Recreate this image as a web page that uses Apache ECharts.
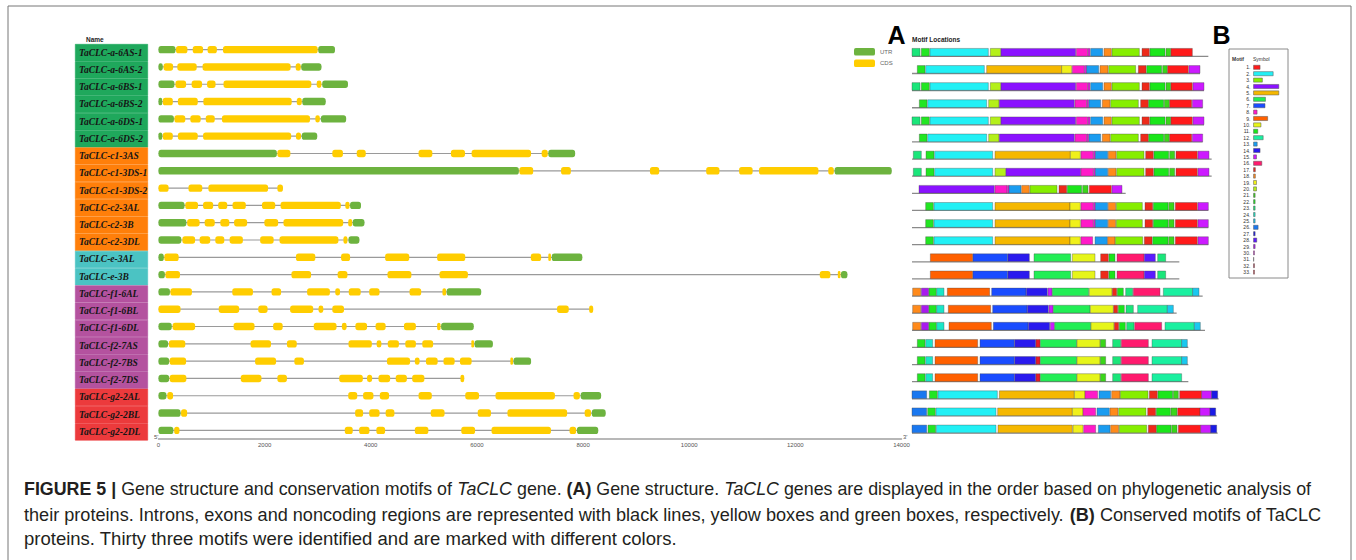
<!DOCTYPE html>
<html><head><meta charset="utf-8">
<script src="https://cdn.jsdelivr.net/npm/echarts@6/dist/echarts.min.js"></script>
<style>html,body{margin:0;padding:0;background:#fff}#c{width:1356px;height:560px}</style>
</head><body><div id="c"></div><script>
// ---------------- data ----------------
const geneNames = ['TaCLC-a-6AS-1','TaCLC-a-6AS-2','TaCLC-a-6BS-1','TaCLC-a-6BS-2','TaCLC-a-6DS-1','TaCLC-a-6DS-2',
 'TaCLC-c1-3AS','TaCLC-c1-3DS-1','TaCLC-c1-3DS-2','TaCLC-c2-3AL','TaCLC-c2-3B','TaCLC-c2-3DL',
 'TaCLC-e-3AL','TaCLC-e-3B','TaCLC-f1-6AL','TaCLC-f1-6BL','TaCLC-f1-6DL','TaCLC-f2-7AS','TaCLC-f2-7BS','TaCLC-f2-7DS',
 'TaCLC-g2-2AL','TaCLC-g2-2BL','TaCLC-g2-2DL'];
const geneClades = ['a','a','a','a','a','a','c','c','c','c','c','c','e','e','f','f','f','f','f','f','g','g','g'];
const cladeColors = {a:'#1fa85c', c:'#ff7f0a', e:'#4bc3c3', f:'#b4529f', g:'#ec3a3c'};

// exon coordinates in bp (start, end)
const utrSegments = [
 [[0,320],[3010,3325]],
 [[0,80],[2690,3070]],
 [[0,300],[3085,3570]],
 [[0,70],[2710,3150]],
 [[0,290],[3060,3535]],
 [[0,70],[2700,2990]],
 [[0,2230],[7345,7850]],
 [[0,6790],[12740,13815]],
 [],
 [[0,490],[3610,3815]],
 [[0,525],[3660,3880]],
 [[0,430],[3580,3785]],
 [[0,100],[7410,7985]],
 [[0,120],[12860,12980]],
 [[0,215],[5430,6080]],
 [],
 [[0,250],[5325,5940]],
 [[0,180],[5955,6300]],
 [[0,200],[6690,7020]],
 [[0,200]],
 [[0,150],[7955,8340]],
 [[0,415],[8165,8425]],
 [[0,280],[7885,8285]]
];
const cdsSegments = [
 [[330,545],[645,840],[925,1100],[1215,3000]],
 [[95,275],[355,720],[830,2490],[2585,2680]],
 [[320,520],[625,820],[915,1075],[1225,2880],[2980,3070]],
 [[80,270],[365,740],[845,2510],[2605,2700]],
 [[300,505],[600,795],[890,1060],[1195,2855],[2955,3040]],
 [[80,270],[365,740],[840,2500],[2590,2685]],
 [[2240,2485],[3275,3475],[3735,3905],[4900,5160],[5510,5775],[5900,7020],[7220,7335]],
 [[6800,7060],[7585,7770],[9260,9435],[10320,10570],[10940,11195],[11315,12435],[12620,12725]],
 [[0,190],[565,825],[940,2065],[2240,2345]],
 [[505,745],[840,1030],[1125,1295],[1395,1645],[1950,2200],[2300,3435],[3520,3600]],
 [[540,775],[870,1060],[1165,1335],[1425,1670],[1995,2255],[2355,3480],[3575,3650]],
 [[450,690],[775,975],[1070,1240],[1340,1590],[1915,2170],[2280,3390],[3485,3560]],
 [[110,380],[2590,2955],[3440,3610],[4270,4725],[5250,5780],[7015,7210],[7345,7395]],
 [[130,405],[2505,2875],[3375,3560],[4315,4765],[5295,5830],[12460,12660],[12800,12850]],
 [[225,630],[1390,1780],[2130,2310],[2800,3230],[3330,3420],[3585,3810],[3970,4165],[4730,4950],[5350,5420]],
 [[0,415],[1135,1520],[1880,2055],[2480,2915],[3015,3105],[3275,3495],[7510,7730],[8115,8190]],
 [[265,690],[1415,1810],[2160,2340],[2925,3355],[3455,3545],[3710,3930],[4090,4280],[4625,4850],[5250,5315]],
 [[195,505],[1735,2120],[2420,2605],[3580,4020],[4110,4200],[4320,4530],[4650,4850],[4970,5175],[5895,5945]],
 [[210,520],[1820,2215],[2560,2740],[4305,4740],[4830,4920],[5040,5260],[5370,5580],[5680,5900],[6630,6680]],
 [[210,525],[1550,1940],[2240,2420],[3405,3850],[3930,4025],[4145,4365],[4470,4680],[4780,5010],[5690,5760]],
 [[165,275],[3575,3745],[3855,4050],[4170,4345],[4900,5150],[5780,6040],[6350,7470],[7820,7940]],
 [[425,540],[3705,3855],[3970,4165],[4280,4445],[5130,5390],[6015,6265],[6575,7700],[8030,8150]],
 [[295,395],[3510,3660],[3780,3975],[4105,4270],[4830,5085],[5705,5965],[6275,7395],[7745,7870]]
];
const geneTicks = [0,2000,4000,6000,8000,10000,12000,14000];

// motif panel: protein lengths and motifs [motif, start, end] (aa units of the drawing)
const proteinLengths = [889,864,876,872,876,872,899,899,641,889,889,889,802,802,872,794,879,829,829,829,920,914,917];
const motifRows = [
 [[23,0,24],[22,28,52],[2,54,229],[20,235,266],[4,267,491],[8,493,527],[30,528,534],[13,536,572],[18,576,598],[3,600,682],[17,690,712],[11,714,759],[21,762,776],[1,777,841]],
 [[22,16,39],[2,41,217],[5,224,449],[19,449,479],[8,481,517],[30,518,524],[13,524,560],[18,564,588],[3,590,671],[17,679,702],[11,704,749],[21,752,766],[1,767,829],[15,831,864]],
 [[23,0,24],[22,28,52],[2,54,229],[20,235,266],[4,267,491],[8,493,527],[30,528,534],[13,536,572],[18,576,598],[3,600,682],[17,690,712],[11,714,759],[21,762,776],[1,777,841],[15,843,876]],
 [[22,22,45],[2,47,224],[20,230,261],[4,262,487],[8,489,524],[30,525,530],[13,531,566],[18,571,594],[3,596,679],[17,686,709],[11,710,755],[21,757,772],[1,773,839],[15,841,872]],
 [[23,0,24],[22,28,52],[2,54,229],[20,235,266],[4,267,491],[8,493,527],[30,528,534],[13,536,572],[18,576,598],[3,600,682],[17,690,712],[11,714,759],[21,762,776],[1,777,841],[15,843,876]],
 [[22,22,45],[2,47,224],[20,230,261],[4,262,487],[8,489,524],[30,525,530],[13,531,566],[18,571,594],[3,596,679],[17,686,709],[11,710,755],[21,757,772],[1,773,839],[15,841,872]],
 [[23,4,28],[22,42,66],[2,68,242],[5,249,475],[19,475,505],[8,507,544],[30,545,550],[13,550,587],[18,589,612],[3,614,696],[17,701,724],[11,726,770],[21,773,788],[1,792,856],[15,858,891]],
 [[23,4,28],[22,42,66],[2,68,242],[20,249,281],[4,282,506],[8,507,544],[30,545,550],[13,550,587],[18,589,612],[3,614,696],[17,701,724],[11,726,770],[21,773,788],[1,792,856],[15,858,891]],
 [[4,21,247],[8,249,285],[30,286,291],[13,291,327],[18,329,352],[3,354,435],[17,441,464],[11,466,509],[21,512,528],[1,532,598],[15,600,630]],
 [[22,41,64],[2,66,242],[5,249,474],[19,474,505],[8,507,544],[30,545,550],[13,550,587],[18,589,611],[3,613,691],[17,699,722],[11,724,768],[21,770,786],[1,790,856],[15,858,889]],
 [[22,41,64],[2,66,242],[5,249,474],[19,474,505],[8,507,544],[30,545,550],[13,550,587],[18,589,611],[3,613,691],[17,699,722],[11,724,768],[21,770,786],[1,790,856],[15,858,889]],
 [[22,41,64],[2,66,242],[5,249,474],[19,474,505],[8,507,542],[13,549,586],[18,587,609],[3,610,692],[17,697,720],[11,722,768],[21,770,786],[1,790,856],[15,858,889]],
 [[9,55,182],[7,183,287],[14,288,352],[6,366,476],[10,481,549],[17,566,589],[11,591,609],[16,615,696],[28,697,730],[23,737,761]],
 [[9,55,182],[7,183,287],[14,288,352],[6,366,476],[10,481,549],[17,566,589],[11,591,609],[16,615,696],[28,697,730],[23,737,761]],
 [[18,2,26],[29,28,50],[22,51,73],[24,74,96],[9,106,233],[7,239,342],[14,343,406],[15,408,420],[6,421,530],[10,532,600],[17,601,614],[11,616,634],[23,641,662],[16,664,744],[12,754,842],[25,842,861]],
 [[18,2,26],[29,28,50],[22,51,73],[24,74,96],[9,109,236],[7,242,345],[14,346,409],[15,411,423],[6,424,534],[10,535,604],[17,605,617],[11,619,637],[23,642,664],[12,677,766],[25,766,784]],
 [[18,2,26],[29,28,50],[22,51,73],[24,74,96],[9,111,238],[7,244,348],[14,349,413],[15,415,427],[6,428,536],[10,537,606],[17,607,620],[11,622,640],[23,644,666],[16,668,749],[12,759,847],[25,847,865]],
 [[22,16,39],[24,41,62],[9,69,197],[7,204,307],[14,308,371],[33,372,384],[6,385,494],[10,495,564],[21,565,581],[23,602,626],[16,628,709],[12,720,809],[25,809,826]],
 [[22,16,39],[24,41,62],[9,69,197],[7,204,307],[14,308,371],[33,372,384],[6,385,494],[10,495,564],[21,565,581],[23,602,626],[16,628,709],[12,720,809],[25,809,826]],
 [[22,16,39],[24,41,62],[9,69,197],[7,204,307],[14,308,371],[33,372,384],[6,385,494],[10,495,564],[21,565,581],[23,602,626],[16,628,709],[12,720,809]],
 [[26,0,44],[22,52,76],[2,78,256],[5,262,487],[19,487,519],[8,519,557],[13,561,596],[18,599,624],[3,625,708],[17,712,736],[11,738,782],[21,784,799],[1,803,869],[15,869,899],[27,899,917]],
 [[26,0,44],[22,47,70],[2,72,252],[5,257,481],[19,481,513],[8,513,551],[13,555,592],[18,594,618],[3,620,702],[17,707,731],[11,733,775],[21,777,795],[1,797,864],[15,864,894],[27,894,911]],
 [[26,0,44],[22,48,71],[2,73,252],[5,258,481],[19,483,513],[8,515,551],[13,559,594],[18,596,620],[3,622,704],[17,709,733],[11,734,777],[21,779,795],[1,799,866],[15,866,896],[27,896,914]]
];
const motifLabels = ['1.','2.','3.','4.','5.','6.','7.','8.','9.','10.','11.','12.','13.','14.','15.','16.','17.','18.','19.','20.','21.','22.','23.','24.','25.','26.','27.','28.','29.','30.','31.','32.','33.'];
const motifColors = ['#ff1a1a','#22f0f5','#86ee00','#8a12ff','#f5b800','#22ee55','#1a4cff','#ff1ac8','#ff6000','#e6f51a',
 '#1ae61a','#1af0a0','#1a9cf0','#2a1aee','#cc1aff','#ff1a6e','#ee2a1a','#ff8a1a','#f0f01a','#b4f01a',
 '#3ad61a','#22e622','#1ae67a','#1ae6c8','#1ac8f0','#1a78f0','#1a1ae6','#5a1aff','#a81aee','#e61ae6',
 '#999999','#c81a3a','#e61a2a'];
const motifLengths = [61,175,81,224,224,108,104,35,127,69,41,88,36,61,30,76,20,20,30,30,18,18,18,18,18,44,18,32,18,12,6,12,12];

const captionLines = [
 [['b','FIGURE 5 |'],['n',' Gene structure and conservation motifs of '],['i','TaCLC'],['n',' gene. '],['b','(A)'],['n',' Gene structure. '],['i','TaCLC'],['n',' genes are displayed in the order based on phylogenetic analysis of']],
 [['n','their proteins. Introns, exons and noncoding regions are represented with black lines, yellow boxes and green boxes, respectively. '],['b','(B)'],['n',' Conserved motifs of TaCLC']],
 [['n','proteins. Thirty three motifs were identified and are marked with different colors.']]
];

// ---------------- build ----------------
const chart = echarts.init(document.getElementById('c'), null, {renderer:'svg'});

const introns = geneNames.map((n,i)=>{
  const all = utrSegments[i].concat(cdsSegments[i]);
  return [i, 0, Math.max.apply(null, all.map(s=>s[1]))];
});
const utrData = [], cdsData = [];
utrSegments.forEach((segs,i)=>segs.forEach(s=>utrData.push([i,s[0],s[1]])));
cdsSegments.forEach((segs,i)=>segs.forEach(s=>cdsData.push([i,s[0],s[1]])));
const motifData = [];
motifRows.forEach((row,i)=>row.forEach(m=>motifData.push([i,m[1],m[2],m[0]])));
const proteinData = proteinLengths.map((l,i)=>[i,0,l]);

function exonItem(params, api){
  const r = api.value(0), p0 = api.coord([api.value(1), r]), p1 = api.coord([api.value(2), r]);
  const h = 7.4;
  return {type:'rect', shape:{x:p0[0], y:p0[1]-h/2, width:Math.max(p1[0]-p0[0],1.5), height:h, r:2.6},
    style:{fill:api.visual('color')}};
}
function lineItem(color, dy, lw){
  return function(params, api){
    const r = api.value(0), p0 = api.coord([api.value(1), r]), p1 = api.coord([api.value(2), r]);
    return {type:'line', shape:{x1:p0[0], y1:p0[1]+dy, x2:p1[0], y2:p1[1]+dy}, style:{stroke:color, lineWidth:lw}};
  };
}
function motifItem(params, api){
  const r = api.value(0), p0 = api.coord([api.value(1), r]), p1 = api.coord([api.value(2), r]);
  const h = 7.7;
  return {type:'rect', shape:{x:p0[0], y:p0[1]-h/2, width:p1[0]-p0[0], height:h},
    style:{fill:motifColors[api.value(3)-1], stroke:'rgba(70,70,70,0.6)', lineWidth:0.6}};
}

// caption
const capFamily = '"Liberation Sans", Arial, Helvetica, sans-serif';
const capSize = 18.5;
const mctx = document.createElement('canvas').getContext('2d');
function segFont(st){ return (st==='i'?'italic ':'')+(st==='b'?'bold ':'')+capSize+'px '+capFamily; }
function textWidth(segs){ let w=0; segs.forEach(s=>{ mctx.font=segFont(s[0]); w+=mctx.measureText(s[1]).width; }); return w; }
const capTargets = [1287, 1297, 653];
const capBaselines = [495.5, 520.5, 545];
const richStyles = {
  n:{fontSize:capSize, fontFamily:capFamily, fill:'#231f20'},
  b:{fontSize:capSize, fontFamily:capFamily, fontWeight:'bold', fill:'#231f20'},
  i:{fontSize:capSize, fontFamily:capFamily, fontStyle:'italic', fill:'#231f20'}
};
const captionGraphics = captionLines.map((segs,k)=>({
  type:'text', x:24, y:capBaselines[k]-6.4, scaleX:capTargets[k]/textWidth(segs), silent:true,
  style:{text:segs.map(s=>'{'+s[0]+'|'+s[1]+'}').join(''), rich:richStyles, verticalAlign:'middle', align:'left',
    fontSize:capSize, fontFamily:capFamily, fill:'#231f20'}
}));

const smallFont = '"Liberation Sans", Arial, sans-serif';
const option = {
  animation:false,
  backgroundColor:'#fff',
  legend:{data:['UTR','CDS'], orient:'vertical', left:854, top:48, padding:0, itemWidth:21, itemHeight:7.5, itemGap:4,
    icon:'roundRect', textStyle:{fontSize:6, color:'#666', fontFamily:smallFont}, selectedMode:false},
  grid:[
    {left:75, top:44, width:73, height:396.5},
    {left:158.5, top:41, width:743, height:398},
    {left:912, top:43.7, width:340, height:393.8},
    {left:1253.3, top:64.1, width:30, height:211.2}
  ],
  xAxis:[
    {gridIndex:0, type:'value', min:0, max:1, show:false},
    {gridIndex:1, type:'value', min:0, max:14000, interval:2000, splitLine:{show:false}, axisTick:{show:false},
      axisLine:{show:true, lineStyle:{color:'#a0a0a0', width:1.5}},
      axisLabel:{fontSize:6, color:'#555', margin:3, fontFamily:smallFont,
        customValues:geneTicks, formatter:v=>String(v)}},
    {gridIndex:2, type:'value', min:0, max:1020, show:false},
    {gridIndex:3, type:'value', min:0, max:261, show:false}
  ],
  yAxis:[
    {gridIndex:0, type:'category', data:geneNames, inverse:true, show:false},
    {gridIndex:1, type:'category', data:geneNames, inverse:true, show:false},
    {gridIndex:2, type:'category', data:geneNames, inverse:true, show:false},
    {gridIndex:3, type:'category', data:motifLabels, inverse:true, axisLine:{show:false}, axisTick:{show:false},
      axisLabel:{fontSize:5, color:'#333', margin:3, interval:0, fontFamily:smallFont}}
  ],
  series:[
    {type:'bar', xAxisIndex:0, yAxisIndex:0, barCategoryGap:'0%', silent:true,
      data:geneNames.map((n,i)=>({value:1, itemStyle:{color:cladeColors[geneClades[i]], borderColor:cladeColors[geneClades[i]], borderWidth:0.6}})),
      label:{show:true, position:'insideLeft', distance:4, formatter:'{b}', fontFamily:'"Liberation Serif", "Times New Roman", serif',
        fontStyle:'italic', fontWeight:'bold', fontSize:9.5, color:'#151515'}},
    {type:'custom', name:'intron', xAxisIndex:1, yAxisIndex:1, renderItem:lineItem('#9a9a9a',0,1.2), encode:{x:[1,2], y:0}, data:introns, silent:true, z:1},
    {type:'custom', name:'UTR', xAxisIndex:1, yAxisIndex:1, renderItem:exonItem, encode:{x:[1,2], y:0}, data:utrData,
      itemStyle:{color:'#6db33f'}, silent:true, z:2},
    {type:'custom', name:'CDS', xAxisIndex:1, yAxisIndex:1, renderItem:exonItem, encode:{x:[1,2], y:0}, data:cdsData,
      itemStyle:{color:'#ffcd00'}, silent:true, z:2},
    {type:'custom', name:'protein', xAxisIndex:2, yAxisIndex:2, renderItem:lineItem('#8a8a8a',4.1,1.3), encode:{x:[1,2], y:0}, data:proteinData, silent:true, z:1},
    {type:'custom', name:'motifs', xAxisIndex:2, yAxisIndex:2, renderItem:motifItem, encode:{x:[1,2], y:0}, data:motifData, silent:true, z:2},
    {type:'bar', xAxisIndex:3, yAxisIndex:3, barWidth:4.6, silent:true,
      data:motifLengths.map((v,i)=>({value:v, itemStyle:{color:motifColors[i], borderColor:'#555', borderWidth:0.5}}))}
  ],
  graphic:[
    {type:'polyline', silent:true, shape:{points:[[8,560],[8,6],[1351,6],[1351,560]]}, style:{stroke:'#777', lineWidth:1, fill:null}},
    {type:'text', x:86, y:39, silent:true, style:{text:'Name', fontSize:6.5, fontWeight:'bold', fontFamily:smallFont, fill:'#222', verticalAlign:'middle'}},
    {type:'text', x:154, y:436.5, silent:true, style:{text:"5'", fontSize:6, fontFamily:smallFont, fill:'#555', verticalAlign:'middle'}},
    {type:'text', x:903, y:436.5, silent:true, style:{text:"3'", fontSize:6, fontFamily:smallFont, fill:'#555', verticalAlign:'middle'}},
    {type:'text', x:887.5, y:34.5, silent:true, style:{text:'A', fontSize:25, fontWeight:'bold', fontFamily:smallFont, fill:'#000', verticalAlign:'middle'}},
    {type:'text', x:912, y:39.3, silent:true, style:{text:'Motif Locations', fontSize:6.5, fontWeight:'bold', fontFamily:smallFont, fill:'#222', verticalAlign:'middle'}},
    {type:'text', x:1212.5, y:34.5, silent:true, style:{text:'B', fontSize:25, fontWeight:'bold', fontFamily:smallFont, fill:'#000', verticalAlign:'middle'}},
    {type:'rect', silent:true, shape:{x:1229, y:49, width:59, height:229}, style:{stroke:'#8a8a8a', lineWidth:1, fill:null}},
    {type:'text', x:1232, y:59, silent:true, style:{text:'Motif', fontSize:5, fontWeight:'bold', fontFamily:smallFont, fill:'#333', verticalAlign:'middle'}},
    {type:'text', x:1253, y:59, silent:true, style:{text:'Symbol', fontSize:5, fontFamily:smallFont, fill:'#333', verticalAlign:'middle'}}
  ].concat(captionGraphics)
};
chart.setOption(option);
</script></body></html>
